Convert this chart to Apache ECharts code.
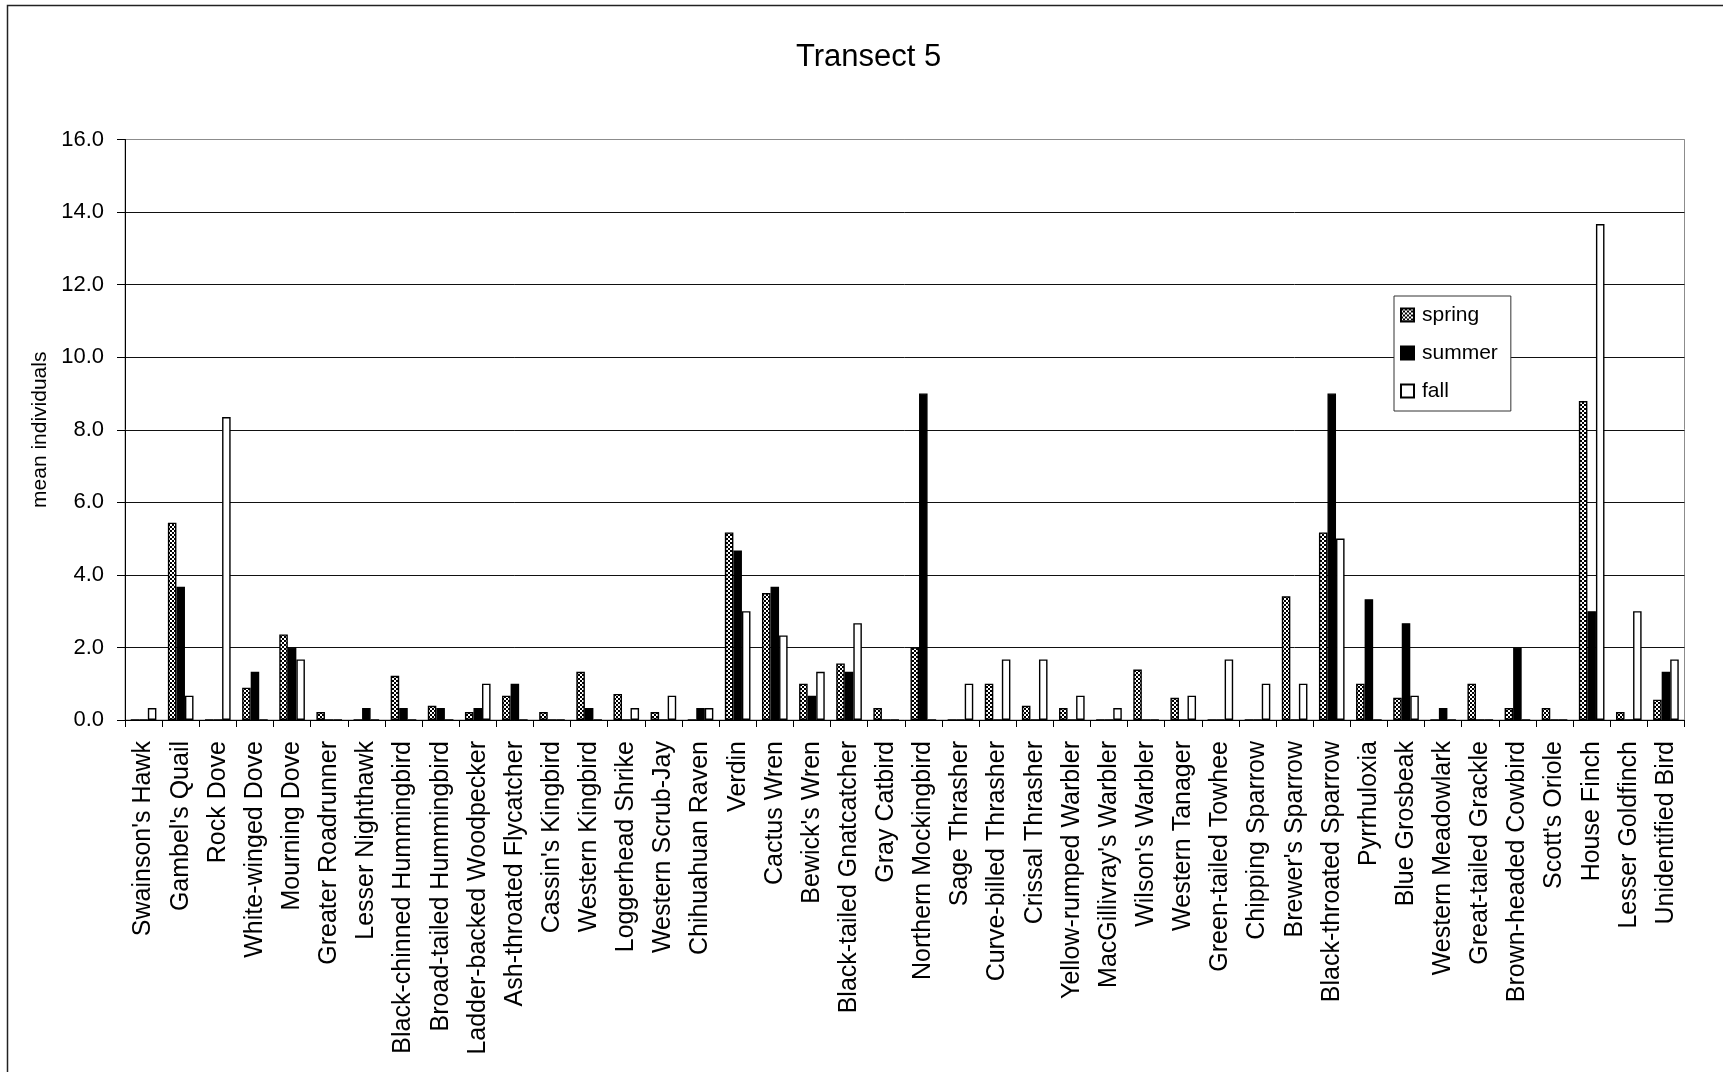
<!DOCTYPE html>
<html>
<head>
<meta charset="utf-8">
<script src="https://cdn.jsdelivr.net/npm/echarts@6/dist/echarts.min.js"></script>
<style>
  html, body { margin: 0; padding: 0; background: #fff; }
  #chart { width: 1723px; height: 1072px; }
</style>
</head>
<body>
<div id="chart"></div>
<script>
// Bird species recorded along the transect
const categories = [
  "Swainson's Hawk", "Gambel's Quail", "Rock Dove", "White-winged Dove", "Mourning Dove",
  "Greater Roadrunner", "Lesser Nighthawk", "Black-chinned Hummingbird", "Broad-tailed Hummingbird",
  "Ladder-backed Woodpecker", "Ash-throated Flycatcher", "Cassin's Kingbird", "Western Kingbird",
  "Loggerhead Shrike", "Western Scrub-Jay", "Chihuahuan Raven", "Verdin", "Cactus Wren",
  "Bewick's Wren", "Black-tailed Gnatcatcher", "Gray Catbird", "Northern Mockingbird",
  "Sage Thrasher", "Curve-billed Thrasher", "Crissal Thrasher", "Yellow-rumped Warbler",
  "MacGillivray's Warbler", "Wilson's Warbler", "Western Tanager", "Green-tailed Towhee",
  "Chipping Sparrow", "Brewer's Sparrow", "Black-throated Sparrow", "Pyrrhuloxia", "Blue Grosbeak",
  "Western Meadowlark", "Great-tailed Grackle", "Brown-headed Cowbird", "Scott's Oriole",
  "House Finch", "Lesser Goldfinch", "Unidentified Bird"
];

// Mean individuals per season
const spring = [
  0, 5.44, 0, 0.89, 2.36, 0.22, 0, 1.22, 0.39, 0.22, 0.67, 0.22, 1.33, 0.72, 0.22, 0,
  5.17, 3.5, 1.0, 1.56, 0.33, 2.0, 0, 1.0, 0.39, 0.33, 0, 1.39, 0.61, 0, 0, 3.41,
  5.17, 1.0, 0.61, 0, 1.0, 0.33, 0.33, 8.79, 0.22, 0.56
];
const summer = [
  0, 3.67, 0, 1.33, 2.0, 0, 0.33, 0.33, 0.33, 0.33, 1.0, 0, 0.33, 0, 0, 0.33,
  4.67, 3.67, 0.67, 1.33, 0, 9.0, 0, 0, 0, 0, 0, 0, 0, 0, 0, 0,
  9.0, 3.33, 2.67, 0.33, 0, 2.0, 0, 3.0, 0, 1.33
];
const fall = [
  0.33, 0.67, 8.35, 0, 1.67, 0, 0, 0, 0, 1.0, 0, 0, 0, 0.33, 0.67, 0.33,
  3.0, 2.33, 1.33, 2.67, 0, 0, 1.0, 1.67, 1.67, 0.67, 0.33, 0, 0.67, 1.67, 1.0, 1.0,
  5.0, 0, 0.67, 0, 0, 0, 0, 13.67, 3.0, 1.67
];

const FONT = '"Liberation Sans", Arial, sans-serif';

// Small checkerboard fill used for the spring bars
function checkerTile() {
  const c = document.createElement('canvas');
  c.width = 4; c.height = 4;
  const ctx = c.getContext('2d');
  ctx.fillStyle = '#ffffff';
  ctx.fillRect(0, 0, 4, 4);
  ctx.fillStyle = '#000000';
  ctx.fillRect(0, 0, 2, 2);
  ctx.fillRect(2, 2, 2, 2);
  return c;
}

const chart = echarts.init(document.getElementById('chart'), null, { renderer: 'canvas' });

const barBase = {
  type: 'bar',
  barGap: '0%',
  barCategoryGap: '31%',
  animation: false
};

chart.setOption({
  backgroundColor: '#ffffff',
  animation: false,
  title: {
    text: 'Transect 5',
    left: 791,
    top: 37,
    textStyle: { fontFamily: FONT, fontSize: 31, fontWeight: 'normal', color: '#000' }
  },
  graphic: [{
    type: 'rect',
    silent: true,
    shape: { x: 7.5, y: 5.5, width: 2000, height: 2000 },
    style: { fill: null, stroke: '#222', lineWidth: 1.5 },
    z: 100
  }],
  legend: {
    orient: 'vertical',
    left: 1394,
    top: 296,
    padding: [8, 13, 9, 6],
    itemWidth: 13,
    itemHeight: 13,
    itemGap: 16,
    backgroundColor: '#fff',
    borderColor: '#333',
    borderWidth: 1,
    icon: 'rect',
    textStyle: { fontFamily: FONT, fontSize: 21, color: '#000', lineHeight: 22, padding: [0, 0, 0, 3] },
    data: ['spring', 'summer', 'fall']
  },
  grid: {
    left: 125,
    right: 38.5,
    top: 139.5,
    bottom: 352,
    show: true,
    borderColor: '#8c8c8c',
    borderWidth: 1,
    backgroundColor: 'transparent'
  },
  xAxis: {
    type: 'category',
    data: categories,
    axisLine: { lineStyle: { color: '#000', width: 1 } },
    axisTick: { show: true, length: 7, interval: 0, lineStyle: { color: '#000' } },
    axisLabel: {
      interval: 0,
      rotate: 90,
      margin: 21,
      fontFamily: FONT,
      fontSize: 25,
      color: '#000'
    },
    splitLine: { show: false }
  },
  yAxis: {
    type: 'value',
    min: 0,
    max: 16,
    interval: 2,
    name: 'mean individuals',
    nameLocation: 'middle',
    nameRotate: 90,
    nameGap: 67,
    nameTextStyle: { fontFamily: FONT, fontSize: 21, color: '#000' },
    axisLine: { show: true, lineStyle: { color: '#000', width: 1 } },
    axisTick: { show: true, length: 8, lineStyle: { color: '#000' } },
    axisLabel: {
      margin: 21,
      fontFamily: FONT,
      fontSize: 22,
      color: '#000',
      formatter: v => v.toFixed(1)
    },
    splitLine: {
      show: true,
      showMinLine: true,
      showMaxLine: true,
      lineStyle: {
        color: ['#000', '#111', '#111', '#111', '#111', '#111', '#111', '#111', '#8c8c8c'],
        width: 1
      }
    }
  },
  series: [
    Object.assign({}, barBase, {
      name: 'spring',
      data: spring,
      itemStyle: {
        color: { image: checkerTile(), repeat: 'repeat' },
        borderColor: '#000',
        borderWidth: 1.4
      }
    }),
    Object.assign({}, barBase, {
      name: 'summer',
      data: summer,
      itemStyle: { color: '#000', borderColor: '#000', borderWidth: 1.4 }
    }),
    Object.assign({}, barBase, {
      name: 'fall',
      data: fall,
      itemStyle: { color: '#fff', borderColor: '#000', borderWidth: 1.4 }
    })
  ]
});
</script>
</body>
</html>
